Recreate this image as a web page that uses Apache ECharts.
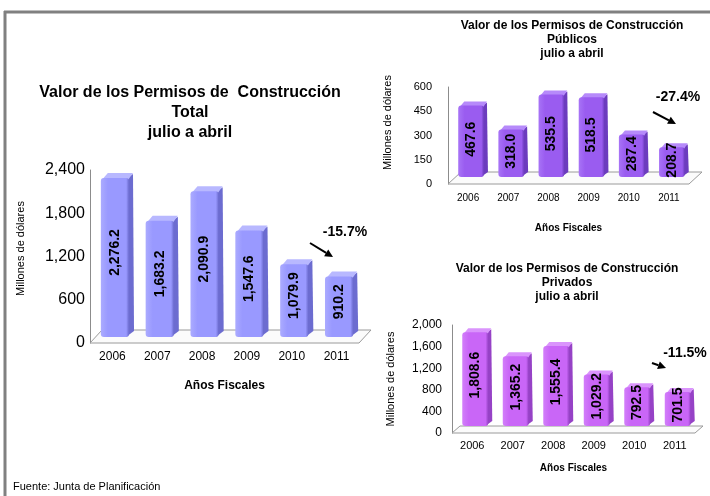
<!DOCTYPE html>
<html>
<head>
<meta charset="utf-8">
<title>Valor de los Permisos de Construcción</title>
<script src="https://cdn.jsdelivr.net/npm/echarts/dist/echarts.min.js"></script>
<style>
  html, body { margin: 0; padding: 0; background: #fff; }
  #main { width: 710px; height: 496px; }
</style>
</head>
<body>
<div id="main"></div>
<script type="text/javascript">
// datos (millones de dólares, julio a abril)
var years = ["2006", "2007", "2008", "2009", "2010", "2011"];
var totalValues = [2276.2, 1683.2, 2090.9, 1547.6, 1079.9, 910.2];
var publicValues = [467.6, 318.0, 535.5, 518.5, 287.4, 208.7];
var privateValues = [1808.6, 1365.2, 1555.4, 1029.2, 792.5, 701.5];
var totalTicks = [0, 600, 1200, 1800, 2400];
var publicTicks = [0, 150, 300, 450, 600];
var privateTicks = [0, 400, 800, 1200, 1600, 2000];
var changes = ["-15.7%", "-27.4%", "-11.5%"];
var titles = [
  "Valor de los Permisos de  Construcción\nTotal\njulio a abril",
  "Valor de los Permisos de Construcción\nPúblicos\njulio a abril",
  "Valor de los Permisos de Construcción\nPrivados\njulio a abril"
];
var yName = "Millones de dólares";
var xName = "Años Fiscales";
var source = "Fuente: Junta de Planificación";

var FONT = 'Arial, "Liberation Sans", sans-serif';

function fmt(v, dec) {
  return v.toLocaleString("en-US", { minimumFractionDigits: dec, maximumFractionDigits: dec });
}

// cada panel: posición, colores y tamaños
var panels = [
  {
    values: totalValues, ticks: totalTicks, title: titles[0], change: changes[0],
    grid: { left: 90, top: 170, width: 269, height: 173 },
    color: { front: "#9999FF", light: "#ABABFF", top: "#B8B8FF", side: "#6C6CD0" },
    titleX: 190, titleY: 83, titleSize: 16, titleLine: 20,
    yLabelSize: 16, yLabelMargin: 5, yNameGap: 64, yNamePad: 16,
    xLabelSize: 12, xLabelMargin: 8, xNameGap: 37, xNameSize: 12,
    barLabelSize: 14, labelLift: 5, depth: 5, shift: [5, -6], floor: [12, -13],
    changeAt: [345, 232], arrow: [310, 243, 333, 257]
  },
  {
    values: publicValues, ticks: publicTicks, title: titles[1], change: changes[1],
    grid: { left: 448, top: 87, width: 241, height: 97 },
    color: { front: "#9A5CF0", light: "#A874F6", top: "#B68AFA", side: "#6C3CBE" },
    titleX: 572, titleY: 19, titleSize: 12, titleLine: 14,
    yLabelSize: 11, yLabelMargin: 16, yNameGap: 55, yNamePad: 26,
    xLabelSize: 10, xLabelMargin: 9, xNameGap: 39, xNameSize: 10,
    barLabelSize: 14, labelLift: 2, depth: 4, shift: [5, -7], floor: [13, -12],
    changeAt: [678, 97], arrow: [653, 112, 676, 124]
  },
  {
    values: privateValues, ticks: privateTicks, title: titles[2], change: changes[2],
    grid: { left: 452, top: 325, width: 243, height: 108 },
    color: { front: "#C966F7", light: "#D27EFA", top: "#DA94FC", side: "#9642C6" },
    titleX: 567, titleY: 262, titleSize: 12, titleLine: 14,
    yLabelSize: 12, yLabelMargin: 10, yNameGap: 56, yNamePad: 0,
    xLabelSize: 11, xLabelMargin: 7, xNameGap: 30, xNameSize: 10,
    barLabelSize: 14, labelLift: 4, depth: 4, shift: [5, -7], floor: [8, -7],
    changeAt: [685, 353], arrow: [652, 363, 666, 368]
  }
];

function makeRender(p) {
  return function (params, api) {
    var idx = api.value(0);
    var v = api.value(1);
    var base = api.coord([idx, 0]);
    var top = api.coord([idx, v]);
    var band = api.size([1, 0])[0];
    var d = p.depth;
    var fw = band * 0.74 - d;
    var x0 = base[0] - fw / 2 + p.shift[0] - d / 2;
    var x1 = x0 + fw;
    var yb = base[1] + p.shift[1];
    var yt = top[1] + p.shift[1] + d;
    var c = p.color;
    return {
      type: "group",
      children: [
        {
          type: "polygon",
          shape: { points: [[x1 - 3, yt + 1], [x1 + d - 1, yt - d + 1], [x1 + d, yb - d - 1], [x1 - 3, yb]] },
          style: { fill: c.side }
        },
        {
          type: "polygon",
          shape: { points: [[x0 + 1, yt + 2], [x0 + d + 2, yt - d], [x1 + d - 1, yt - d], [x1 - 1, yt + 2]] },
          style: { fill: c.top }
        },
        {
          type: "rect",
          shape: { x: x0, y: yt, width: fw, height: yb - yt, r: 3 },
          style: {
            fill: new echarts.graphic.LinearGradient(0, 0, 1, 0, [
              { offset: 0, color: c.light },
              { offset: 0.25, color: c.front },
              { offset: 0.9, color: c.front },
              { offset: 1, color: c.side }
            ])
          }
        },
        {
          type: "text",
          x: x0 + fw / 2,
          y: (yt + yb) / 2 - p.labelLift,
          rotation: Math.PI / 2,
          style: {
            text: fmt(v, 1),
            fill: "#000",
            font: "bold " + p.barLabelSize + "px " + FONT,
            align: "center",
            verticalAlign: "middle"
          }
        }
      ]
    };
  };
}

function arrow(a) {
  var x1 = a[0], y1 = a[1], x2 = a[2], y2 = a[3];
  var ang = Math.atan2(y2 - y1, x2 - x1);
  var h = 8, w = 4;
  var bx = x2 - h * Math.cos(ang), by = y2 - h * Math.sin(ang);
  return [
    { type: "line", shape: { x1: x1, y1: y1, x2: bx, y2: by }, style: { stroke: "#000", lineWidth: 2 } },
    {
      type: "polygon",
      shape: {
        points: [
          [x2, y2],
          [bx + w * Math.sin(ang), by - w * Math.cos(ang)],
          [bx - w * Math.sin(ang), by + w * Math.cos(ang)]
        ]
      },
      style: { fill: "#000" }
    }
  ];
}

var option = {
  animation: false,
  textStyle: { fontFamily: FONT },
  grid: [],
  xAxis: [],
  yAxis: [],
  series: [],
  graphic: [
    { type: "line", shape: { x1: 4, y1: 12, x2: 710, y2: 12 }, style: { stroke: "#808080", lineWidth: 3 } },
    { type: "line", shape: { x1: 5, y1: 11, x2: 5, y2: 496 }, style: { stroke: "#808080", lineWidth: 3 } },
    {
      type: "text", x: 13, y: 487,
      style: { text: source, font: "11px " + FONT, fill: "#000", verticalAlign: "middle" }
    }
  ]
};

panels.forEach(function (p, k) {
  var g = p.grid;
  option.grid.push({ left: g.left, top: g.top, width: g.width, height: g.height, containLabel: false });
  option.xAxis.push({
    type: "category",
    gridIndex: k,
    data: years,
    axisLine: { show: false },
    axisTick: { show: false },
    axisLabel: { color: "#000", fontSize: p.xLabelSize, margin: p.xLabelMargin },
    name: xName,
    nameLocation: "middle",
    nameGap: p.xNameGap,
    nameTextStyle: { color: "#000", fontWeight: "bold", fontSize: p.xNameSize }
  });
  option.yAxis.push({
    type: "value",
    gridIndex: k,
    min: p.ticks[0],
    max: p.ticks[p.ticks.length - 1],
    interval: p.ticks[1] - p.ticks[0],
    axisLine: { show: true, lineStyle: { color: "#8c8c8c", width: 1 } },
    axisTick: { show: false },
    splitLine: { show: false },
    axisLabel: {
      color: "#000",
      fontSize: p.yLabelSize,
      margin: p.yLabelMargin,
      formatter: function (v) { return fmt(v, 0); }
    },
    name: yName,
    nameLocation: "middle",
    nameGap: p.yNameGap,
    nameTextStyle: { color: "#000", fontSize: 11, padding: [0, 0, 0, p.yNamePad] }
  });
  option.series.push({
    type: "custom",
    xAxisIndex: k,
    yAxisIndex: k,
    renderItem: makeRender(p),
    data: p.values.map(function (v, i) { return [i, v]; }),
    z: 3
  });

  // piso 3D
  var L = g.left, R = g.left + g.width, B = g.top + g.height;
  var fx = p.floor[0], fy = p.floor[1];
  option.graphic.push({
    type: "polygon",
    z: 1,
    shape: { points: [[L, B], [R, B], [R + fx, B + fy], [L + fx, B + fy]] },
    style: { fill: "#fbfbfb", stroke: "#9a9a9a", lineWidth: 1 }
  });
  // título
  option.graphic.push({
    type: "text",
    x: p.titleX,
    y: p.titleY,
    style: {
      text: p.title,
      font: "bold " + p.titleSize + "px " + FONT,
      lineHeight: p.titleLine,
      fill: "#000",
      align: "center",
      verticalAlign: "top"
    }
  });
  // cambio porcentual
  option.graphic.push({
    type: "text",
    x: p.changeAt[0],
    y: p.changeAt[1],
    style: {
      text: p.change,
      font: "bold 14px " + FONT,
      fill: "#000",
      align: "center",
      verticalAlign: "middle"
    }
  });
  arrow(p.arrow).forEach(function (el) { option.graphic.push(el); });
});

var myChart = echarts.init(document.getElementById("main"), null, { renderer: "canvas" });
myChart.setOption(option);
</script>
</body>
</html>
